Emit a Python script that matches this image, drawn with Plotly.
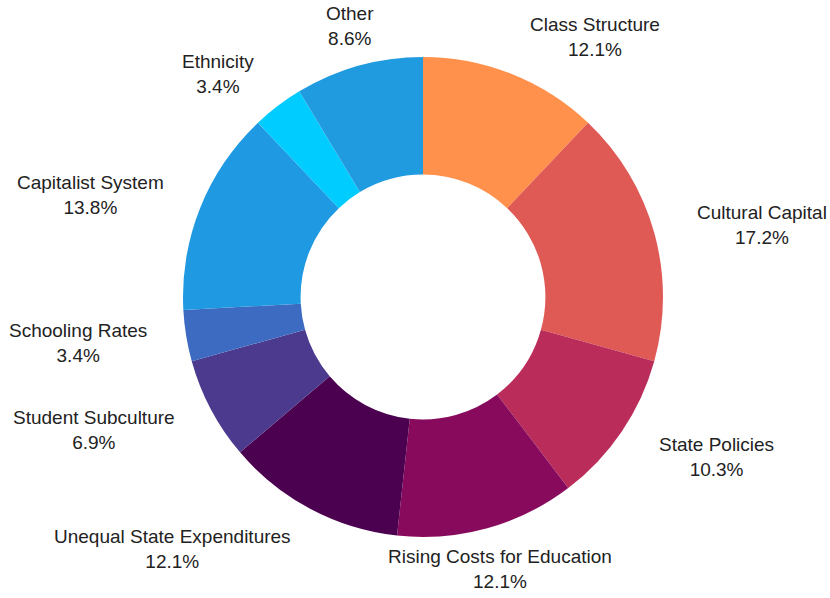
import math
import plotly.graph_objects as go

categories = ["Class Structure", "Cultural Capital", "State Policies", "Rising Costs for Education",
              "Unequal State Expenditures", "Student Subculture", "Schooling Rates",
              "Capitalist System", "Ethnicity", "Other"]
counts = [7, 10, 6, 7, 7, 4, 2, 8, 2, 5]
colors = ["#FF914D", "#E05A55", "#BA2D5A", "#870A5C", "#4C0050",
          "#4C3A8E", "#3D6BC2", "#1F9AE2", "#00CCFF", "#219BE0"]

# label placement tuning (pixels): nudge from the elliptical anchor
label_nudge_x = [44, 7, 8, -15, -89, -24, -5, -12, 4, 19]
label_nudge_y = [0, 3, 3, 2, 5, 2, 1, 2, 0, -1]

W, H = 830, 598
cx, cy, r = 423, 297, 240
rx_lab, ry_lab = 345, 280
FONT = "Liberation Sans, Arial, sans-serif"

fig = go.Figure(go.Pie(
    labels=categories,
    values=counts,
    sort=False,
    direction="clockwise",
    rotation=0,
    hole=0.51,
    marker=dict(colors=colors, line=dict(width=0)),
    textinfo="none",
    hoverinfo="label+percent",
    showlegend=False,
    domain=dict(x=[(cx - r) / W, (cx + r) / W], y=[(H - cy - r) / H, (H - cy + r) / H]),
))

total = sum(counts)
cum = 0
annotations = []
for i, (lab, c) in enumerate(zip(categories, counts)):
    mid = (cum + c / 2) / total * 2 * math.pi
    cum += c
    px = cx + rx_lab * math.sin(mid) + label_nudge_x[i]
    py = cy - ry_lab * math.cos(mid) + label_nudge_y[i]
    annotations.append(dict(
        x=px / W, y=1 - py / H, xref="paper", yref="paper",
        xanchor="center", yanchor="middle", showarrow=False,
        text=f"{lab}<br>{100 * c / total:.1f}%",
        font=dict(family=FONT, size=19, color="#222222"),
        align="center",
    ))

fig.update_layout(
    width=W, height=H,
    margin=dict(l=0, r=0, t=0, b=0),
    paper_bgcolor="white",
    plot_bgcolor="white",
    annotations=annotations,
)
fig.write_html("out.html")
